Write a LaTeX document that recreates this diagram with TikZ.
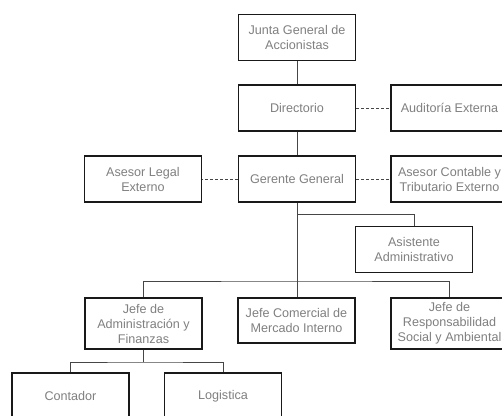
\documentclass[tikz,border=0pt]{standalone}
\usepackage{fontspec}
\setmainfont{Liberation Sans}
\usepackage{tikz}
\usetikzlibrary{positioning, calc}
\definecolor{boxtext}{RGB}{128, 128, 128}
\definecolor{linkcolor}{RGB}{70, 70, 70}

\begin{document}
\begin{tikzpicture}[x=1pt, y=-1pt,
  cargo/.style={draw=black!90, line width=1.8pt, fill=white, minimum width=117pt, minimum height=46pt, inner sep=0pt, align=center, text=boxtext, font=\fontsize{12.6}{15}\selectfont},
  link/.style={draw=linkcolor, line width=1pt},
  asesoria/.style={link, dash pattern=on 3pt off 2pt}]
\useasboundingbox (0,0) rectangle (502,415);
\clip (0,0) rectangle (502,415);

\node[cargo] (junta) at (297,37.5) {Junta General de\\Accionistas};
\node[cargo] (dir) at (297,108) {Directorio};
\node[cargo] (aud) at (449.5,108) {Auditoría Externa};
\node[cargo] (ger) at (297,179) {Gerente General};
\node[cargo] (legal) at (143,179) {Asesor Legal\\Externo};
\node[cargo] (contable) at (449.5,179) {Asesor Contable y\\Tributario Externo};
\node[cargo] (asist) at (414,249.5) {Asistente\\Administrativo};

\node[cargo, minimum height=51pt] (admin) at (143.5,323.5) {Jefe de\\Administración y\\Finanzas};
\node[cargo, minimum height=45pt] (comercial) at (296.5,320.5) {Jefe Comercial de\\Mercado Interno};
\node[cargo, minimum height=51pt] (resp) at (449.5,323.5) {Jefe de\\Responsabilidad\\Social y Ambiental};

\node[cargo] (contador) at (70.5,396) {Contador};
\node[cargo] (logistica) at (223,396) {Logistica};

% lineas de mando
\draw[link] (junta.south) -- (dir.north);
\draw[link] (dir.south) -- (ger.north);
\draw[link] (ger.south) -- (ger.south |- comercial.north);
\coordinate (asbar) at (297,214);
\draw[link] (asbar) -| (asist.north);
\coordinate (bar) at (297,281);
\draw[link] (admin.north) |- (bar) -| (resp.north);
\coordinate (subbar) at (143.5,362);
\draw[link] (admin.south) -- (subbar);
\draw[link] (contador.north) |- (subbar) -| (logistica.north);

% asesorias externas
\draw[asesoria] (dir.east) -- (aud.west);
\draw[asesoria] (ger.west) -- (legal.east);
\draw[asesoria] (ger.east) -- (contable.west);
\end{tikzpicture}
\end{document}
